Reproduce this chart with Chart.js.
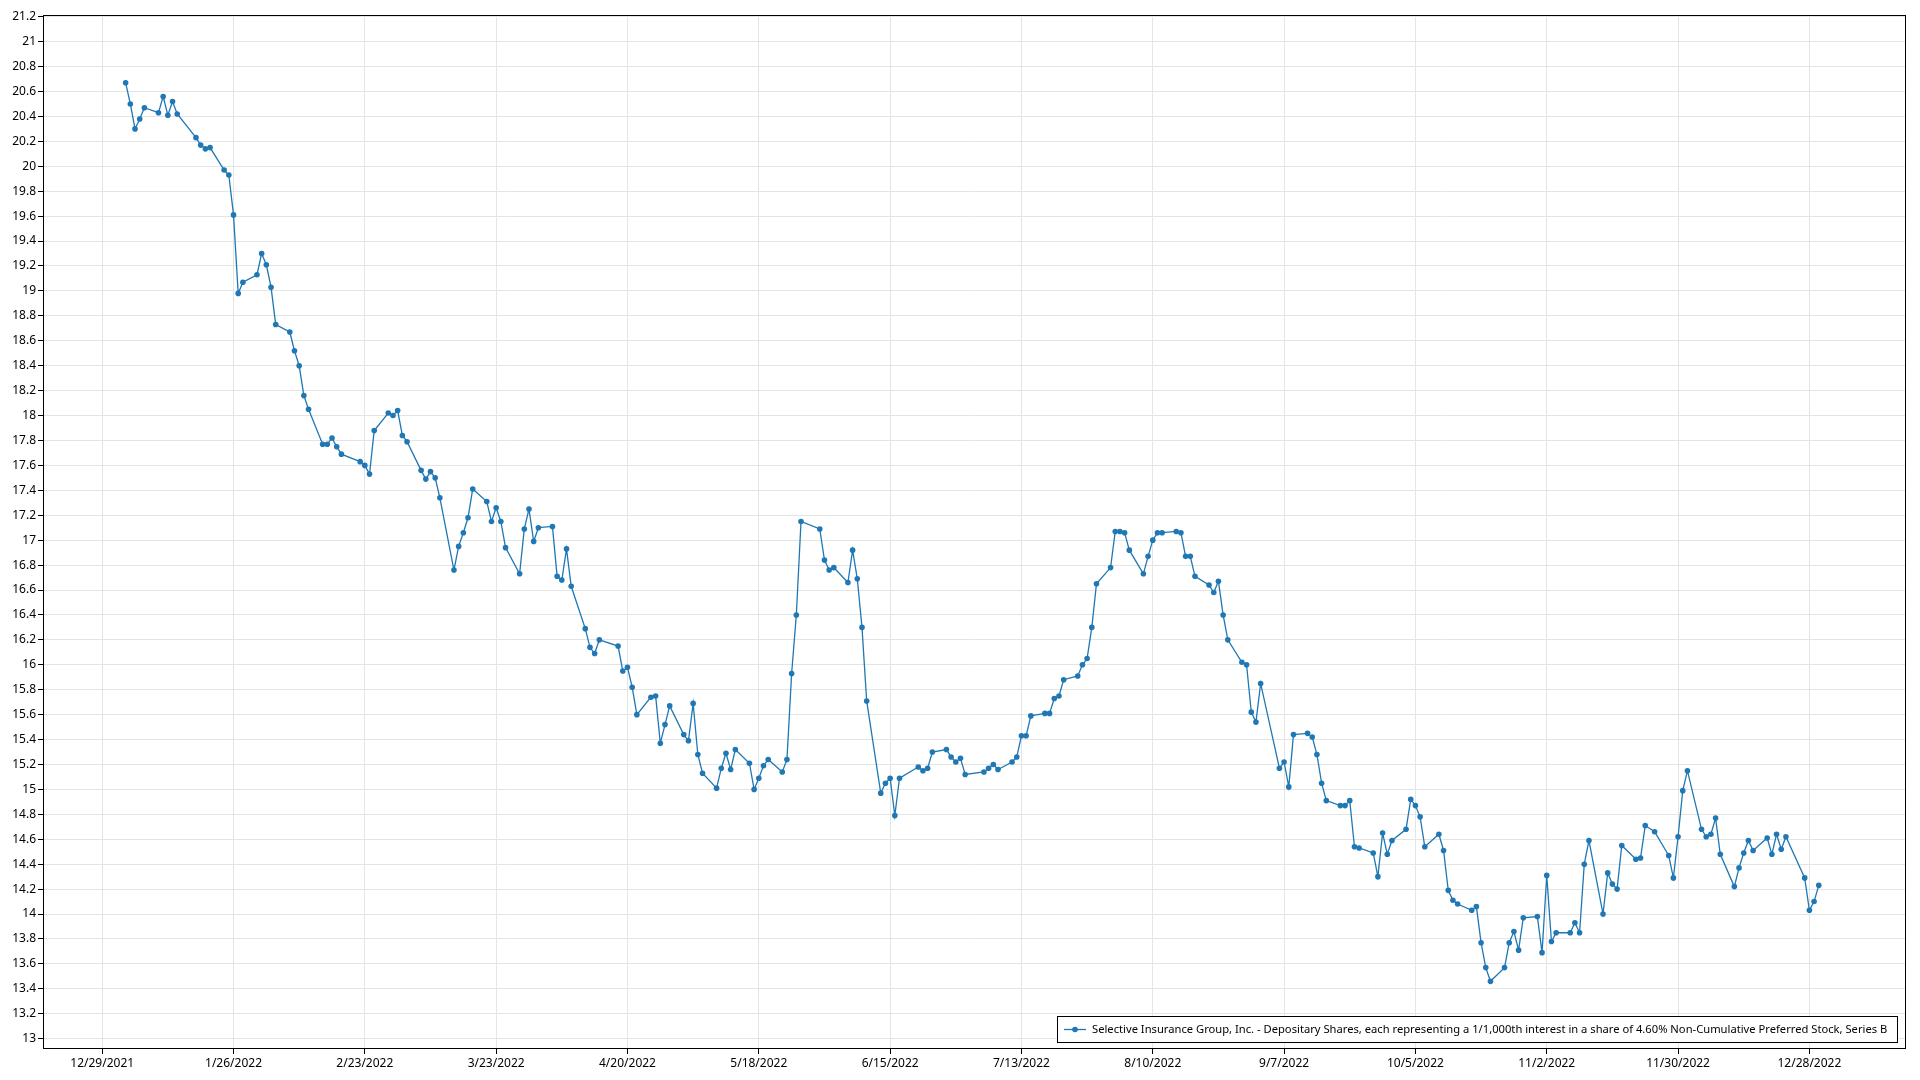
<!DOCTYPE html>
<html>
<head>
<meta charset="utf-8">
<script src="https://cdn.jsdelivr.net/npm/chart.js@4.4.0/dist/chart.umd.min.js"></script>
<style>
html,body{margin:0;padding:0;background:#ffffff;}
#wrap{width:1920px;height:1080px;position:relative;}
</style>
</head>
<body>
<div id="wrap"><canvas id="c" width="1920" height="1080"></canvas></div>
<script>
const seriesLabel = "Selective Insurance Group, Inc. - Depositary Shares, each representing a 1/1,000th interest in a share of 4.60% Non-Cumulative Preferred Stock, Series B";

const dates = [
"2022-01-03","2022-01-04","2022-01-05","2022-01-06","2022-01-07","2022-01-10","2022-01-11","2022-01-12","2022-01-13","2022-01-14",
"2022-01-18","2022-01-19","2022-01-20","2022-01-21","2022-01-24","2022-01-25","2022-01-26","2022-01-27","2022-01-28","2022-01-31",
"2022-02-01","2022-02-02","2022-02-03","2022-02-04","2022-02-07","2022-02-08","2022-02-09","2022-02-10","2022-02-11","2022-02-14",
"2022-02-15","2022-02-16","2022-02-17","2022-02-18","2022-02-22","2022-02-23","2022-02-24","2022-02-25","2022-02-28",
"2022-03-01","2022-03-02","2022-03-03","2022-03-04","2022-03-07","2022-03-08","2022-03-09","2022-03-10","2022-03-11","2022-03-14",
"2022-03-15","2022-03-16","2022-03-17","2022-03-18","2022-03-21","2022-03-22","2022-03-23","2022-03-24","2022-03-25","2022-03-28",
"2022-03-29","2022-03-30","2022-03-31",
"2022-04-01","2022-04-04","2022-04-05","2022-04-06","2022-04-07","2022-04-08","2022-04-11","2022-04-12","2022-04-13","2022-04-14",
"2022-04-18","2022-04-19","2022-04-20","2022-04-21","2022-04-22","2022-04-25","2022-04-26","2022-04-27","2022-04-28","2022-04-29",
"2022-05-02","2022-05-03","2022-05-04","2022-05-05","2022-05-06","2022-05-09","2022-05-10","2022-05-11","2022-05-12","2022-05-13",
"2022-05-16","2022-05-17","2022-05-18","2022-05-19","2022-05-20","2022-05-23","2022-05-24","2022-05-25","2022-05-26","2022-05-27",
"2022-05-31",
"2022-06-01","2022-06-02","2022-06-03","2022-06-06","2022-06-07","2022-06-08","2022-06-09","2022-06-10","2022-06-13","2022-06-14",
"2022-06-15","2022-06-16","2022-06-17","2022-06-21","2022-06-22","2022-06-23","2022-06-24","2022-06-27","2022-06-28","2022-06-29",
"2022-06-30",
"2022-07-01","2022-07-05","2022-07-06","2022-07-07","2022-07-08","2022-07-11","2022-07-12","2022-07-13","2022-07-14","2022-07-15",
"2022-07-18","2022-07-19","2022-07-20","2022-07-21","2022-07-22","2022-07-25","2022-07-26","2022-07-27","2022-07-28","2022-07-29",
"2022-08-01","2022-08-02","2022-08-03","2022-08-04","2022-08-05","2022-08-08","2022-08-09","2022-08-10","2022-08-11","2022-08-12",
"2022-08-15","2022-08-16","2022-08-17","2022-08-18","2022-08-19","2022-08-22","2022-08-23","2022-08-24","2022-08-25","2022-08-26",
"2022-08-29","2022-08-30","2022-08-31",
"2022-09-01","2022-09-02","2022-09-06","2022-09-07","2022-09-08","2022-09-09","2022-09-12","2022-09-13","2022-09-14","2022-09-15",
"2022-09-16","2022-09-19","2022-09-20","2022-09-21","2022-09-22","2022-09-23","2022-09-26","2022-09-27","2022-09-28","2022-09-29",
"2022-09-30",
"2022-10-03","2022-10-04","2022-10-05","2022-10-06","2022-10-07","2022-10-10","2022-10-11","2022-10-12","2022-10-13","2022-10-14",
"2022-10-17","2022-10-18","2022-10-19","2022-10-20","2022-10-21","2022-10-24","2022-10-25","2022-10-26","2022-10-27","2022-10-28",
"2022-10-31",
"2022-11-01","2022-11-02","2022-11-03","2022-11-04","2022-11-07","2022-11-08","2022-11-09","2022-11-10","2022-11-11","2022-11-14",
"2022-11-15","2022-11-16","2022-11-17","2022-11-18","2022-11-21","2022-11-22","2022-11-23","2022-11-25","2022-11-28","2022-11-29",
"2022-11-30",
"2022-12-01","2022-12-02","2022-12-05","2022-12-06","2022-12-07","2022-12-08","2022-12-09","2022-12-12","2022-12-13","2022-12-14",
"2022-12-15","2022-12-16","2022-12-19","2022-12-20","2022-12-21","2022-12-22","2022-12-23","2022-12-27","2022-12-28","2022-12-29",
"2022-12-30"
];

const prices = [
// Jan
20.67,20.50,20.30,20.38,20.47,20.43,20.56,20.41,20.52,20.42,
20.23,20.17,20.14,20.15,19.97,19.93,19.61,18.98,19.07,19.13,
// Feb
19.30,19.21,19.03,18.73,18.67,18.52,18.40,18.16,18.05,17.77,
17.77,17.82,17.75,17.69,17.63,17.60,17.53,17.88,18.02,
// Mar
18.00,18.04,17.84,17.79,17.56,17.49,17.55,17.50,17.34,16.76,
16.95,17.06,17.18,17.41,17.31,17.15,17.26,17.15,16.94,16.73,
17.09,17.25,16.99,
// Apr
17.10,17.11,16.71,16.68,16.93,16.63,16.29,16.14,16.09,16.20,
16.15,15.95,15.98,15.82,15.60,15.74,15.75,15.37,15.52,15.67,
// May
15.44,15.39,15.69,15.28,15.13,15.01,15.17,15.29,15.16,15.32,
15.21,15.00,15.09,15.19,15.24,15.14,15.24,15.93,16.40,17.15,
17.09,
// Jun
16.84,16.76,16.78,16.66,16.92,16.69,16.30,15.71,14.97,15.05,
15.09,14.79,15.09,15.18,15.15,15.17,15.30,15.32,15.26,15.22,
15.25,
// Jul
15.12,15.14,15.17,15.20,15.16,15.22,15.26,15.43,15.43,15.59,
15.61,15.61,15.73,15.75,15.88,15.91,16.00,16.05,16.30,16.65,
// Aug
16.78,17.07,17.07,17.06,16.92,16.73,16.87,17.00,17.06,17.06,
17.07,17.06,16.87,16.87,16.71,16.64,16.58,16.67,16.40,16.20,
16.02,16.00,15.62,
// Sep
15.54,15.85,15.17,15.22,15.02,15.44,15.45,15.42,15.28,15.05,
14.91,14.87,14.87,14.91,14.54,14.53,14.49,14.30,14.65,14.48,
14.59,
// Oct
14.68,14.92,14.87,14.78,14.54,14.64,14.51,14.19,14.11,14.08,
14.03,14.06,13.77,13.57,13.46,13.57,13.77,13.86,13.71,13.97,
13.98,
// Nov
13.69,14.31,13.78,13.85,13.85,13.93,13.85,14.40,14.59,14.00,
14.33,14.24,14.20,14.55,14.44,14.45,14.71,14.66,14.47,14.29,
14.62,
// Dec
14.99,15.15,14.68,14.62,14.64,14.77,14.48,14.22,14.37,14.49,
14.59,14.51,14.61,14.48,14.64,14.52,14.62,14.29,14.03,14.10,
14.23
];

const xTickLabels = ["12/29/2021","1/26/2022","2/23/2022","3/23/2022","4/20/2022","5/18/2022","6/15/2022",
"7/13/2022","8/10/2022","9/7/2022","10/5/2022","11/2/2022","11/30/2022","12/28/2022"];

const yTickValues = [13,13.2,13.4,13.6,13.8,14,14.2,14.4,14.6,14.8,15,15.2,15.4,15.6,15.8,16,16.2,16.4,16.6,16.8,
17,17.2,17.4,17.6,17.8,18,18.2,18.4,18.6,18.8,19,19.2,19.4,19.6,19.8,20,20.2,20.4,20.6,20.8,21,21.2];

const ORIGIN = Date.UTC(2021, 11, 29);
function isoToDay(s){ const p = s.split('-').map(Number); return (Date.UTC(p[0], p[1]-1, p[2]) - ORIGIN) / 86400000; }
function mdyToDay(s){ const p = s.split('/').map(Number); return (Date.UTC(p[2], p[0]-1, p[1]) - ORIGIN) / 86400000; }
const xTickDays = xTickLabels.map(mdyToDay);
const points = dates.map((d, i) => ({ x: isoToDay(d), y: prices[i] }));

const FONT = '"Noto Sans", "Open Sans", "DejaVu Sans", sans-serif';
const BLUE = '#1f77b4';

const frameAndLegend = {
  id: 'frameAndLegend',
  afterDraw(chart) {
    const { ctx, chartArea: a } = chart;
    ctx.save();
    // plot frame
    ctx.strokeStyle = '#000000';
    ctx.lineWidth = 1;
    ctx.strokeRect(Math.round(a.left) + 0.5, Math.round(a.top) + 0.5, Math.round(a.right - a.left) - 1, Math.round(a.bottom - a.top) - 1);
    // legend box
    ctx.font = '11.2px ' + FONT;
    const text = chart.data.datasets[0].label;
    const tw = ctx.measureText(text).width;
    const h = 27, sw = 22, padL = 7, gap = 6, padR = 11;
    const w = padL + sw + gap + tw + padR;
    const x = Math.round(a.right - 8 - w), y = Math.round(a.bottom - 6 - h);
    ctx.fillStyle = '#ffffff';
    ctx.fillRect(x, y, w, h);
    ctx.strokeStyle = '#000000';
    ctx.strokeRect(x + 0.5, y + 0.5, Math.round(w) - 1, h - 1);
    const cy = y + h / 2;
    ctx.strokeStyle = BLUE;
    ctx.lineWidth = 1.3;
    ctx.beginPath();
    ctx.moveTo(x + padL, cy);
    ctx.lineTo(x + padL + sw, cy);
    ctx.stroke();
    ctx.fillStyle = BLUE;
    ctx.beginPath();
    ctx.arc(x + padL + sw / 2, cy, 2.8, 0, Math.PI * 2);
    ctx.fill();
    ctx.fillStyle = '#000000';
    ctx.textBaseline = 'middle';
    ctx.textAlign = 'left';
    ctx.fillText(text, x + padL + sw + gap, cy);
    ctx.restore();
  }
};

new Chart(document.getElementById('c'), {
  type: 'line',
  data: {
    datasets: [{
      label: seriesLabel,
      data: points,
      borderColor: BLUE,
      backgroundColor: BLUE,
      borderWidth: 1.3,
      pointRadius: 2.8,
      pointBorderWidth: 0,
      pointBackgroundColor: BLUE,
      tension: 0,
      fill: false
    }]
  },
  options: {
    responsive: false,
    animation: false,
    devicePixelRatio: 1,
    layout: { padding: { top: 15, right: 14, left: 0, bottom: 0 } },
    plugins: { legend: { display: false }, tooltip: { enabled: false }, title: { display: false } },
    scales: {
      x: {
        type: 'linear',
        min: -12.62,
        max: 384.6,
        afterBuildTicks: (axis) => { axis.ticks = xTickDays.map(v => ({ value: v })); },
        afterFit: (scale) => { scale.height = 31; },
        ticks: {
          autoSkip: false, maxRotation: 0, minRotation: 0, padding: 2,
          color: '#000000', font: { family: FONT, size: 12 },
          callback: (v) => { const i = xTickDays.indexOf(v); return i >= 0 ? xTickLabels[i] : ''; }
        },
        grid: { color: '#e4e4e4', tickColor: '#000000', tickLength: 5, drawTicks: true },
        border: { display: false }
      },
      y: {
        type: 'linear',
        min: 12.917,
        max: 21.214,
        afterBuildTicks: (axis) => { axis.ticks = yTickValues.map(v => ({ value: v })); },
        afterFit: (scale) => { scale.width = 43; },
        ticks: {
          autoSkip: false, padding: 2,
          color: '#000000', font: { family: FONT, size: 12 },
          callback: (v) => String(Math.round(v * 10) / 10)
        },
        grid: { color: '#e4e4e4', tickColor: '#000000', tickLength: 5, drawTicks: true },
        border: { display: false }
      }
    }
  },
  plugins: [frameAndLegend]
});
</script>
</body>
</html>
